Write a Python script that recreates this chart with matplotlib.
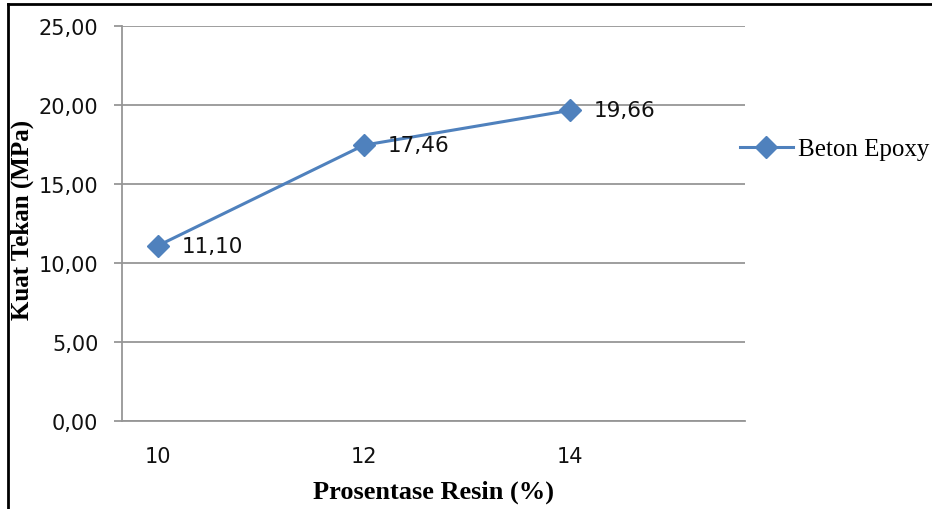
import matplotlib
matplotlib.use("Agg")
import matplotlib.pyplot as plt
from matplotlib.lines import Line2D

# data
resin_pct = [10, 12, 14]
kuat_tekan = [11.10, 17.46, 19.66]
y_ticks = [0, 5, 10, 15, 20, 25]
series_name = "Beton Epoxy"

blue = "#4F81BD"
grid_grey = "#969696"

fig = plt.figure(figsize=(9.32, 5.10), dpi=100)
ax = fig.add_axes([122 / 932, 1 - 422 / 510, (745 - 122) / 932, (422 - 27) / 510])

ax.plot(resin_pct, kuat_tekan, color=blue, lw=2.2, marker="D", ms=11,
        markeredgecolor=blue, markerfacecolor=blue, label=series_name, zorder=3)

for x, y in zip(resin_pct, kuat_tekan):
    ax.annotate(f"{y:.2f}".replace(".", ","), (x, y), xytext=(17, 0),
                textcoords="offset points", ha="left", va="center",
                fontsize=15.5, family="DejaVu Sans", color="#111111")

ax.set_ylim(0, 25)
ax.set_xlim(9.65, 15.70)
ax.set_yticks(y_ticks)
ax.set_yticklabels([f"{v:.2f}".replace(".", ",") for v in y_ticks])
ax.set_xticks(resin_pct)
ax.set_xticklabels([str(v) for v in resin_pct])

ax.yaxis.grid(True, color=grid_grey, lw=1.3)
ax.set_axisbelow(True)
for s in ["top", "right"]:
    ax.spines[s].set_visible(False)
for s in ["left", "bottom"]:
    ax.spines[s].set_color(grid_grey)
    ax.spines[s].set_linewidth(1.3)

ax.tick_params(axis="y", length=6, width=1.3, color=grid_grey, pad=11,
               labelsize=15, labelcolor="#111111")
ax.tick_params(axis="x", length=0, pad=18, labelsize=15, labelcolor="#111111")

ax.set_xlabel("Prosentase Resin (%)", family="Liberation Serif", fontweight="bold",
              fontsize=19, labelpad=10)
ax.set_ylabel("Kuat Tekan (MPa)", family="Liberation Serif", fontweight="bold",
              fontsize=18, va="center")
ax.yaxis.set_label_coords(22 / 932, 1 - 220 / 510, transform=fig.transFigure)

ax.legend(loc="center left", bbox_to_anchor=(740 / 932, 1 - 150 / 510),
          bbox_transform=fig.transFigure, frameon=False, borderpad=0,
          borderaxespad=0, handlelength=2.1, handletextpad=0.2,
          prop={"family": "Liberation Serif", "size": 18})

# outer frame (left and top edges only visible in the reference)
fig.add_artist(Line2D([8 / 932, 8 / 932], [0, 1 - 5 / 510], color="black", lw=2,
                      transform=fig.transFigure))
fig.add_artist(Line2D([8 / 932, 1], [1 - 5 / 510, 1 - 5 / 510], color="black", lw=2,
                      transform=fig.transFigure))

fig.savefig("out.png", dpi=100)
